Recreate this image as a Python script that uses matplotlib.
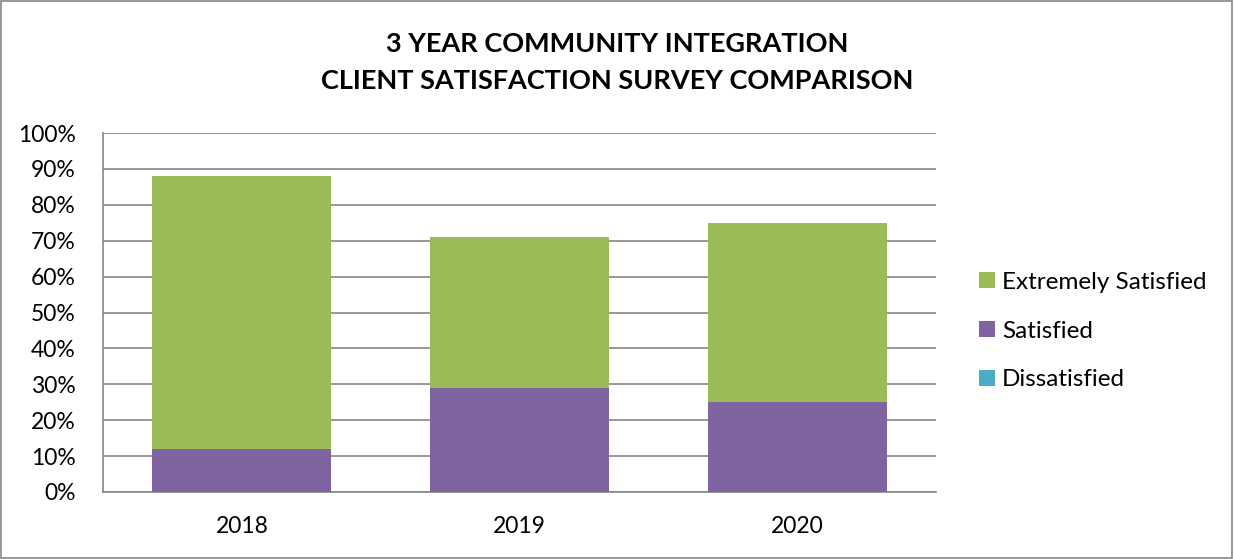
import matplotlib.pyplot as plt
import matplotlib.patches as mpatches
import numpy as np

plt.rcParams['font.family'] = ['Lato', 'DejaVu Sans']

years = ['2018', '2019', '2020']
dissatisfied = [0, 0, 0]
satisfied = [12, 29, 25]
extremely_satisfied = [76, 42, 50]

colors = {'Extremely Satisfied': '#9BBB59', 'Satisfied': '#8064A2', 'Dissatisfied': '#4BACC6'}

fig = plt.figure(figsize=(12.34, 5.59), dpi=100)
ax = fig.add_axes([103 / 1234, 67 / 559, 833 / 1234, 359 / 559])

x = np.arange(len(years))
w = 0.645
b1 = ax.bar(x, dissatisfied, w, color=colors['Dissatisfied'], label='Dissatisfied', zorder=3)
b2 = ax.bar(x, satisfied, w, bottom=dissatisfied, color=colors['Satisfied'], label='Satisfied', zorder=3)
bottom2 = np.array(dissatisfied) + np.array(satisfied)
b3 = ax.bar(x, extremely_satisfied, w, bottom=bottom2, color=colors['Extremely Satisfied'],
            label='Extremely Satisfied', zorder=3)

ax.set_xlim(-0.5, len(years) - 0.5)
ax.set_ylim(0, 100)
ax.set_yticks(np.arange(0, 101, 10))
ax.set_yticklabels([f'{v}%' for v in range(0, 101, 10)], fontsize=16.5)
ax.set_xticks(x)
ax.set_xticklabels(years, fontsize=16.5)
ax.tick_params(axis='y', length=0, pad=19.5)
ax.tick_params(axis='x', length=0, pad=17)
ax.grid(axis='y', color='#868686', linewidth=1.2, zorder=0)
for s in ['top', 'right']:
    ax.spines[s].set_visible(False)
ax.spines['left'].set_color('#868686')
ax.spines['bottom'].set_color('#868686')
ax.spines['left'].set_linewidth(1.2)
ax.spines['bottom'].set_linewidth(1.2)

fig.text(0.5, 1 - 44 / 559, '3 YEAR COMMUNITY INTEGRATION', ha='center', va='center',
         fontsize=19.5, fontweight='bold')
fig.text(0.5, 1 - 81 / 559, 'CLIENT SATISFACTION SURVEY COMPARISON', ha='center', va='center',
         fontsize=19.5, fontweight='bold')

handles = [b3, b2, b1]
leg = fig.legend(handles, ['Extremely Satisfied', 'Satisfied', 'Dissatisfied'],
                 loc='center left', bbox_to_anchor=(957 / 1234, 1 - 331 / 559),
                 frameon=False, fontsize=17.5, handlelength=0.65, handleheight=0.65,
                 handletextpad=0.3, labelspacing=1.15)

fig.add_artist(mpatches.Rectangle((0.001, 0.002), 0.997, 0.996, transform=fig.transFigure,
                                  fill=False, edgecolor='#868686', linewidth=1.2))

fig.savefig('out.png', dpi=100)
